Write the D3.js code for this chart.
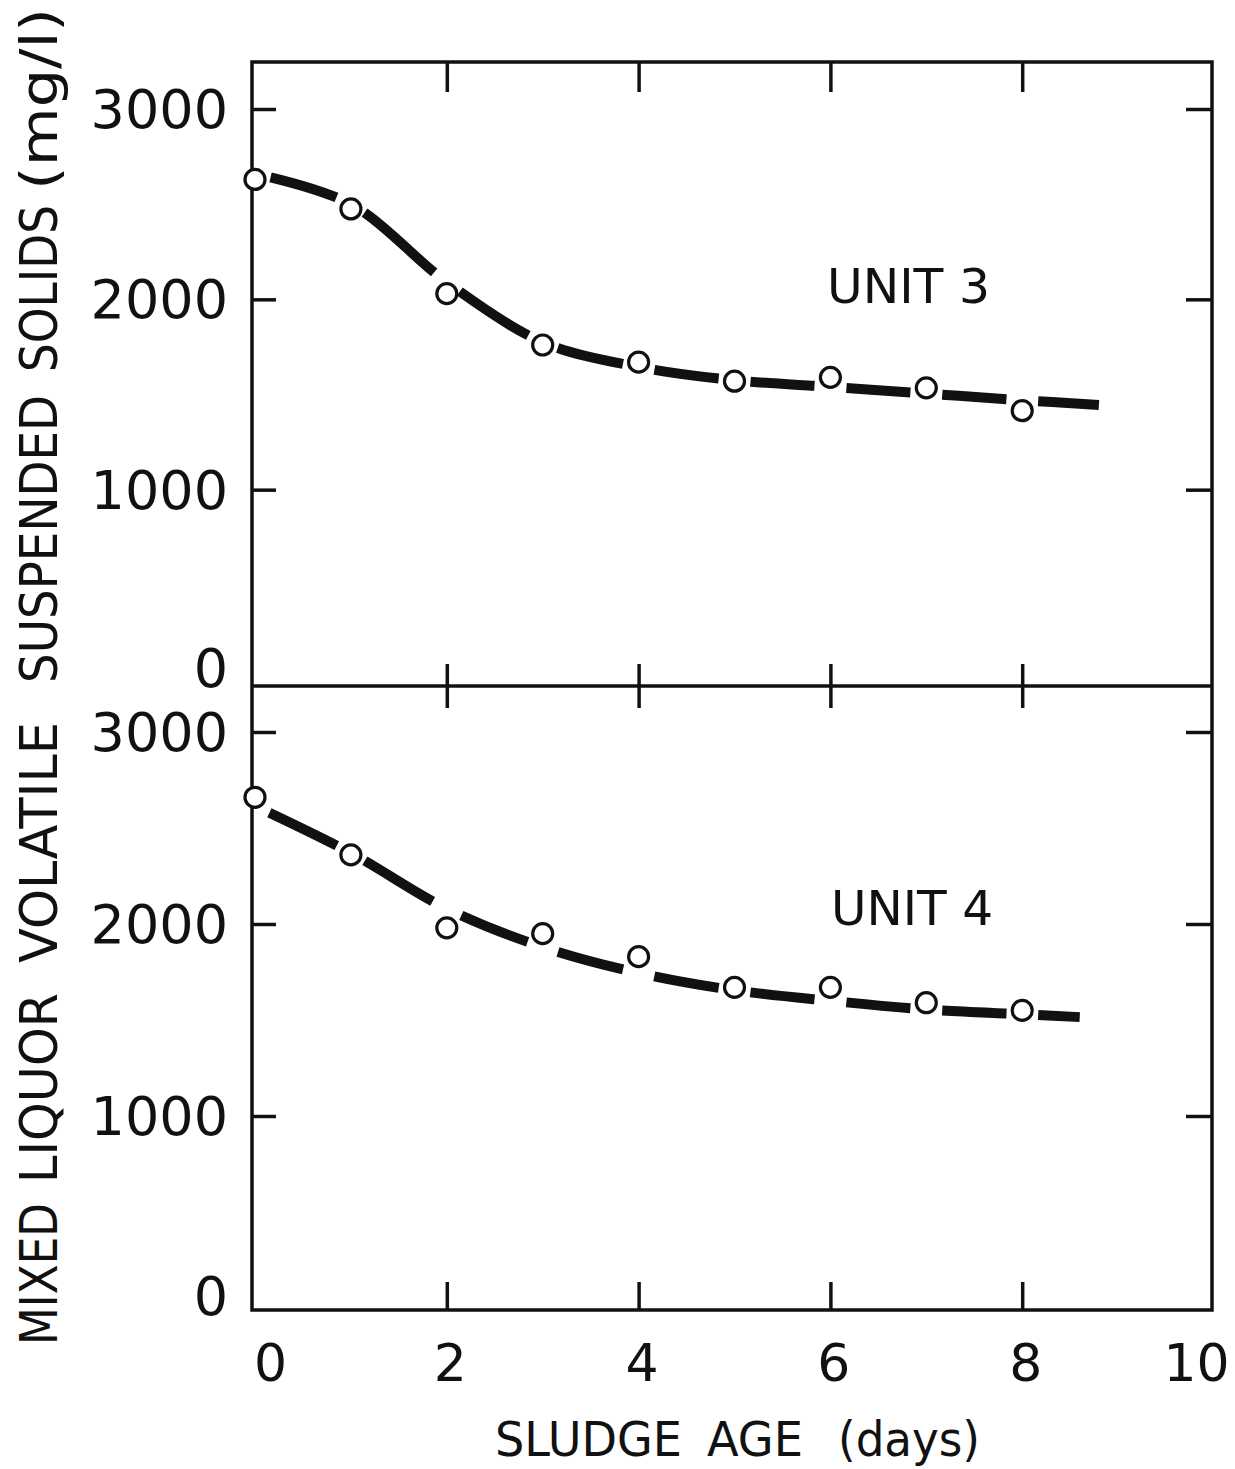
<!DOCTYPE html>
<html>
<head>
<meta charset="utf-8">
<script src="https://cdn.jsdelivr.net/npm/d3@7"></script>
<style>
  body { margin: 0; background: #fff; }
  svg { display: block; }
  text { font-family: "DejaVu Sans", sans-serif; fill: #111; }
</style>
</head>
<body>
<svg id="chart" width="1235" height="1469"></svg>
<script>
// Sludge age (days) of each sample
const sludgeAge = [0, 1, 2, 3, 4, 5, 6, 7, 8];
// Measured mixed liquor volatile suspended solids, mg/l
const unit3 = [2630, 2475, 2030, 1760, 1670, 1570, 1590, 1535, 1415];
const unit4 = [2660, 2360, 1980, 1950, 1830, 1670, 1670, 1590, 1550];
// Smoothed trend curves through the measurements
const unit3FitAge = [0, 1, 2, 3, 4, 5, 6, 7, 8, 8.8];
const unit3Fit = [2660, 2500, 2090, 1775, 1645, 1575, 1540, 1505, 1470, 1445];
const unit4FitAge = [0, 1, 2, 3, 4, 5, 6, 7, 8, 8.6];
const unit4Fit = [2615, 2370, 2080, 1880, 1745, 1655, 1600, 1555, 1530, 1515];
// Axis ticks
const xTicks = [0, 2, 4, 6, 8, 10];
const xInnerTicks = [2, 4, 6, 8];
const yTicks = [0, 1000, 2000, 3000];
const yInnerTicks = [1000, 2000, 3000];
const panelLabels = ["UNIT 3", "UNIT 4"];
const xTitleWords = ["SLUDGE", "AGE", "(days)"];
const yTitleWords = ["MIXED", "LIQUOR", "VOLATILE", "SUSPENDED", "SOLIDS", "(mg/l)"];

const svg = d3.select("#chart");
const L = 252, R = 1212, T = 62, M = 686, B = 1310;
const INK = "#111";
const fmt = d3.format("d");

const x = d3.scaleLinear().domain([0, 10]).range([255, 1214]);
const yTop = d3.scaleLinear().domain([0, 3000]).range([680, 109]);
const yBot = d3.scaleLinear().domain([0, 3000]).range([1308, 732]);

const curveLayer = svg.append("g");
const frameLayer = svg.append("g");
const markLayer = svg.append("g");

// Thick fitted curve, broken where it passes each measured point
function drawSeries(ageFit, fit, age, vals, y) {
  const line = d3.line()
    .x((d, i) => x(ageFit[i]))
    .y(d => y(d))
    .curve(d3.curveCatmullRom.alpha(0.5));
  const path = curveLayer.append("path")
    .datum(fit)
    .attr("d", line)
    .attr("fill", "none")
    .attr("stroke", INK)
    .attr("stroke-width", 10)
    .attr("stroke-linecap", "butt");
  const node = path.node();
  const total = node.getTotalLength();
  const lengths = age.map(a => {
    const px = x(a);
    let lo = 0, hi = total;
    for (let k = 0; k < 40; k++) {
      const m = (lo + hi) / 2;
      if (node.getPointAtLength(m).x < px) lo = m; else hi = m;
    }
    return lo;
  });
  const gap = 16;
  const dash = [];
  let pos = 0;
  lengths.forEach(len => {
    const s = Math.max(pos, len - gap);
    const e = Math.min(total, len + gap);
    dash.push(Math.max(0, s - pos), Math.max(0, e - s));
    pos = e;
  });
  dash.push(Math.max(0, total - pos) + 1, gap);
  path.attr("stroke-dasharray", dash.join(","));

  markLayer.selectAll(null)
    .data(vals)
    .join("circle")
    .attr("cx", (d, i) => x(age[i]))
    .attr("cy", d => y(d))
    .attr("r", 10)
    .attr("fill", "#fff")
    .attr("stroke", INK)
    .attr("stroke-width", 3.2);
}

drawSeries(unit3FitAge, unit3Fit, sludgeAge, unit3, yTop);
drawSeries(unit4FitAge, unit4Fit, sludgeAge, unit4, yBot);

// Panel frames
frameLayer.append("rect")
  .attr("x", L).attr("y", T).attr("width", R - L).attr("height", B - T)
  .attr("fill", "none").attr("stroke", INK).attr("stroke-width", 3.5);
frameLayer.append("line")
  .attr("x1", L).attr("x2", R).attr("y1", M).attr("y2", M)
  .attr("stroke", INK).attr("stroke-width", 3.5);

function styleTicks(g) {
  g.select(".domain").remove();
  g.selectAll(".tick line").attr("stroke", INK).attr("stroke-width", 3.5);
  g.selectAll(".tick text").remove();
}

// Inward ticks along the top, middle and bottom edges
frameLayer.append("g").attr("transform", `translate(0,${T})`)
  .call(d3.axisBottom(x).tickValues(xInnerTicks).tickSize(30)).call(styleTicks);
frameLayer.append("g").attr("transform", `translate(0,${M})`)
  .call(d3.axisBottom(x).tickValues(xInnerTicks).tickSize(22)).call(styleTicks);
frameLayer.append("g").attr("transform", `translate(0,${M})`)
  .call(d3.axisTop(x).tickValues(xInnerTicks).tickSize(22)).call(styleTicks);
frameLayer.append("g").attr("transform", `translate(0,${B})`)
  .call(d3.axisTop(x).tickValues(xInnerTicks).tickSize(28)).call(styleTicks);

// Inward ticks along the left and right edges of both panels
[yTop, yBot].forEach(y => {
  frameLayer.append("g").attr("transform", `translate(${L},0)`)
    .call(d3.axisRight(y).tickValues(yInnerTicks).tickSize(24)).call(styleTicks);
  frameLayer.append("g").attr("transform", `translate(${R},0)`)
    .call(d3.axisLeft(y).tickValues(yInnerTicks).tickSize(26)).call(styleTicks);
});

// Y tick labels
[yTop, yBot].forEach(y => {
  const g = svg.append("g").attr("transform", `translate(${L},0)`)
    .call(d3.axisLeft(y).tickValues(yTicks).tickFormat(fmt).tickSize(0).tickPadding(24));
  g.select(".domain").remove();
  g.selectAll(".tick text")
    .attr("font-family", "DejaVu Sans, sans-serif")
    .attr("font-size", 54)
    .attr("fill", INK)
    .attr("dy", d => d === 0 ? "0.12em" : "0.34em");
});

// X tick labels
const xg = svg.append("g").attr("transform", `translate(0,${B})`)
  .call(d3.axisBottom(x).tickValues(xTicks).tickFormat(fmt).tickSize(0).tickPadding(34));
xg.select(".domain").remove();
xg.selectAll(".tick text")
  .attr("font-family", "DejaVu Sans, sans-serif")
  .attr("font-size", 52)
  .attr("fill", INK)
  .attr("dx", d => d === 0 ? 15 : d === 10 ? -18 : 3);

// X axis title
const xTitleSpans = [[495, 187], [707, 96], [838, 142]];
svg.append("g").selectAll("text")
  .data(xTitleWords)
  .join("text")
  .attr("x", (d, i) => xTitleSpans[i][0])
  .attr("y", 1456)
  .attr("font-size", 48)
  .attr("textLength", (d, i) => xTitleSpans[i][1])
  .attr("lengthAdjust", "spacingAndGlyphs")
  .text(d => d);

// Y axis title, reading upward
const yTitleSpans = [[1345, 142], [1183, 190], [963, 241], [683, 288], [372, 167], [190, 182]];
svg.append("g").selectAll("text")
  .data(yTitleWords)
  .join("text")
  .attr("transform", (d, i) => `translate(57,${yTitleSpans[i][0]}) rotate(-90)`)
  .attr("font-size", 52)
  .attr("textLength", (d, i) => yTitleSpans[i][1])
  .attr("lengthAdjust", "spacingAndGlyphs")
  .text(d => d);

// Panel labels
svg.append("text").attr("x", 827).attr("y", 303).attr("font-size", 48)
  .attr("textLength", 163).attr("lengthAdjust", "spacingAndGlyphs").text(panelLabels[0]);
svg.append("text").attr("x", 831).attr("y", 925).attr("font-size", 48)
  .attr("textLength", 162).attr("lengthAdjust", "spacingAndGlyphs").text(panelLabels[1]);
</script>
</body>
</html>
